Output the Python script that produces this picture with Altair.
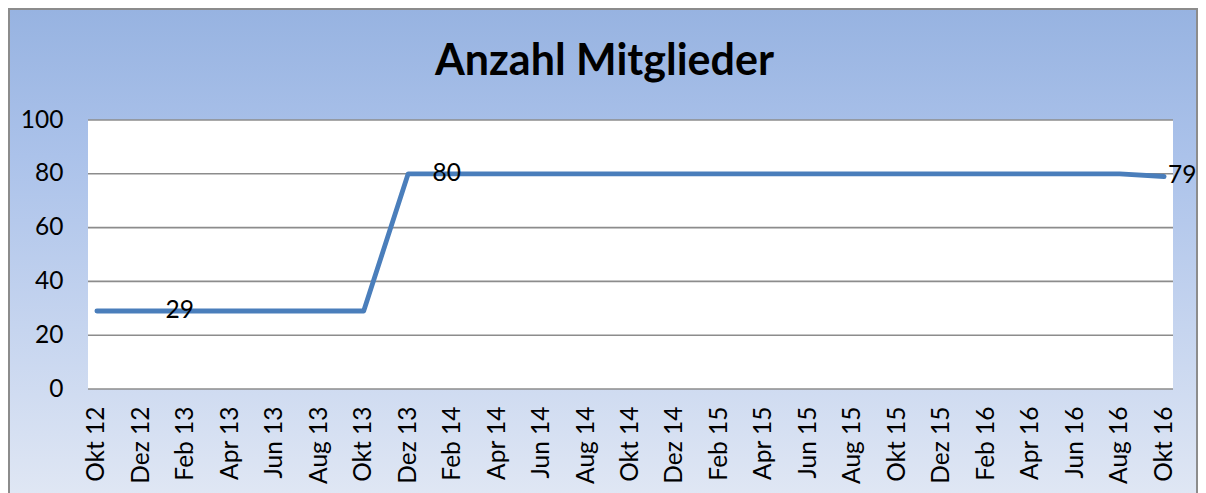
import altair as alt
import pandas as pd

# ---- data ----
months = ["Okt 12", "Dez 12", "Feb 13", "Apr 13", "Jun 13", "Aug 13", "Okt 13",
          "Dez 13", "Feb 14", "Apr 14", "Jun 14", "Aug 14", "Okt 14", "Dez 14",
          "Feb 15", "Apr 15", "Jun 15", "Aug 15", "Okt 15", "Dez 15", "Feb 16",
          "Apr 16", "Jun 16", "Aug 16", "Okt 16"]
members = [29, 29, 29, 29, 29, 29, 29,
           80, 80, 80, 80, 80, 80, 80,
           80, 80, 80, 80, 80, 80, 80,
           80, 80, 80, 79]
label_mid = ["Feb 13", "Feb 14"]   # labels drawn over the line
label_right = ["Okt 16"]           # label drawn right of the point
y_ticks = [0, 20, 40, 60, 80, 100]

df = pd.DataFrame({"Monat": months, "Mitglieder": members})

W, H = 1085, 269
PAD = {"left": 80, "top": 112, "right": 25, "bottom": 104}
FONT = "Lato"
FS = 24.5

xenc = alt.X("Monat:N", sort=months,
             scale=alt.Scale(type="point", padding=0.2),
             axis=alt.Axis(title=None, labelAngle=-90, labelFontSize=FS, labelFont=FONT,
                           labelColor="black", labelPadding=17, ticks=False, domain=False,
                           grid=False, labelOverlap=False, zindex=1))
yscale = alt.Scale(domain=[0, 100], nice=False)

bg = alt.Chart(alt.Data(values=[{}])).mark_rect(
    fill=alt.Gradient(gradient="linear", x1=0, x2=0, y1=0, y2=1,
                      stops=[alt.GradientStop(color="#97B3E1", offset=0),
                             alt.GradientStop(color="#ABC2EA", offset=0.3),
                             alt.GradientStop(color="#E0E7F4", offset=1)]),
    stroke="#8C8C8C", strokeWidth=2
).encode(x=alt.value(-PAD["left"] + 1), x2=alt.value(W + PAD["right"] - 1),
         y=alt.value(-PAD["top"] + 1), y2=alt.value(H + PAD["bottom"] + 5))

plotbg = alt.Chart(alt.Data(values=[{}])).mark_rect(fill="white").encode(
    x=alt.value(0), x2=alt.value(W), y=alt.value(0), y2=alt.value(H))

grid = alt.Chart(pd.DataFrame({"v": y_ticks})).mark_rule(
    color="#8C8C8C", strokeWidth=1.6
).encode(y=alt.Y("v:Q", scale=yscale,
                 axis=alt.Axis(title=None, values=y_ticks, labelFontSize=FS, labelFont=FONT,
                               labelColor="black", labelPadding=25, ticks=False,
                               domain=False, grid=False, zindex=1)))

line = alt.Chart(df).mark_line(color="#4A7EBB", strokeWidth=4.8,
                               strokeCap="round", strokeJoin="round").encode(
    x=xenc, y=alt.Y("Mitglieder:Q", scale=yscale))

txt_mid = alt.Chart(df).transform_filter(
    alt.FieldOneOfPredicate(field="Monat", oneOf=label_mid)
).mark_text(font=FONT, fontSize=FS, color="black", align="center",
            baseline="middle", dx=-6).encode(
    x=alt.X("Monat:N", sort=months), y=alt.Y("Mitglieder:Q", scale=yscale),
    text="Mitglieder:Q")

txt_right = alt.Chart(df).transform_filter(
    alt.FieldOneOfPredicate(field="Monat", oneOf=label_right)
).mark_text(font=FONT, fontSize=FS, color="black", align="left",
            baseline="middle", dx=4).encode(
    x=alt.X("Monat:N", sort=months), y=alt.Y("Mitglieder:Q", scale=yscale),
    text="Mitglieder:Q")

chart = alt.layer(bg, plotbg, grid, line, txt_mid, txt_right).properties(
    width=W, height=H,
    padding=PAD,
    autosize=alt.AutoSizeParams(type="none"),
    title=alt.TitleParams("Anzahl Mitglieder", font=FONT, fontSize=43, fontWeight="bold",
                          color="black", anchor="middle", frame="group",
                          baseline="alphabetic", offset=0, dy=110, dx=-26, zindex=1),
    background="white",
).configure_view(stroke=None)

chart.save("out.html", embed_options={"renderer": "svg", "actions": False})
